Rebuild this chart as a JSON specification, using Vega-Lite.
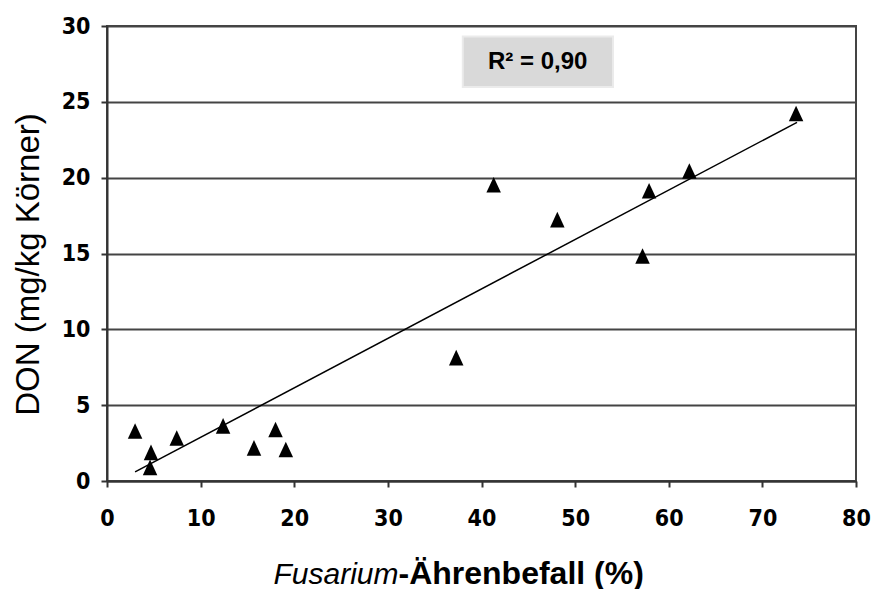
{
  "$schema": "https://vega.github.io/schema/vega-lite/v6.json",
  "width": 749,
  "height": 455,
  "autosize": {"type": "none"},
  "padding": {"left": 107, "top": 26, "right": 16, "bottom": 108},
  "background": "white",
  "config": {
    "view": {"stroke": "#444444", "strokeWidth": 2},
    "font": "Liberation Sans"
  },
  "datasets": {
    "points": [
      {"x": 3.0, "y": 3.26},
      {"x": 4.7, "y": 1.85},
      {"x": 4.6, "y": 0.86},
      {"x": 7.45, "y": 2.8},
      {"x": 12.4, "y": 3.6},
      {"x": 15.7, "y": 2.15},
      {"x": 18.0, "y": 3.36},
      {"x": 19.1, "y": 2.04},
      {"x": 37.3, "y": 8.1},
      {"x": 41.3, "y": 19.5},
      {"x": 48.1, "y": 17.2},
      {"x": 57.2, "y": 14.8},
      {"x": 57.9, "y": 19.1},
      {"x": 62.2, "y": 20.4},
      {"x": 73.6, "y": 24.2}
    ],
    "fit": [
      {"x": 3.0, "y": 0.6},
      {"x": 73.7, "y": 23.65}
    ],
    "box": [
      {"x1": 38.0, "x2": 54.05, "y": 25.98, "y2": 29.3, "xm": 46.0, "ym": 27.17, "label": "R² = 0,90"}
    ]
  },
  "resolve": {"axis": {"x": "independent"}},
  "layer": [
    {
      "data": {"name": "points"},
      "mark": {"type": "point", "shape": "M0,-1.15L-1,1L1,1Z", "filled": true, "color": "black", "opacity": 1, "size": 210},
      "encoding": {
        "x": {
          "field": "x", "type": "quantitative",
          "scale": {"domain": [0, 80], "nice": false, "zero": false},
          "axis": {
            "orient": "bottom",
            "values": [0, 10, 20, 30, 40, 50, 60, 70, 80],
            "grid": false,
            "labelFlush": false,
            "domainColor": "#333333", "domainWidth": 2,
            "tickColor": "#333333", "tickWidth": 2, "tickSize": 6,
            "labelFont": "DejaVu Sans Condensed", "labelFontWeight": "bold", "labelFontSize": 23, "labelColor": "black",
            "labelPadding": 20,
            "title": "Fusarium",
            "titleFont": "Liberation Sans", "titleFontStyle": "italic", "titleFontWeight": "normal", "titleFontSize": 30, "titleColor": "black",
            "titleX": 166, "titleY": 102, "titleAlign": "left", "titleAnchor": "start", "titleBaseline": "alphabetic"
          }
        },
        "y": {
          "field": "y", "type": "quantitative",
          "scale": {"domain": [0, 30], "nice": false, "zero": false},
          "axis": {
            "values": [0, 5, 10, 15, 20, 25, 30],
            "grid": true, "gridColor": "#444444", "gridWidth": 2,
            "labelFlush": false,
            "domainColor": "#333333", "domainWidth": 2,
            "tickColor": "#333333", "tickWidth": 2, "tickSize": 6,
            "labelFont": "DejaVu Sans Condensed", "labelFontWeight": "bold", "labelFontSize": 23, "labelColor": "black",
            "labelPadding": 11,
            "title": "DON (mg/kg Körner)",
            "titleFont": "Liberation Sans", "titleFontWeight": "normal", "titleFontSize": 33, "titleColor": "black",
            "titleAngle": -90, "titleX": -69, "titleY": 238, "titleAlign": "center", "titleBaseline": "alphabetic"
          }
        }
      }
    },
    {
      "data": {"name": "fit"},
      "mark": {"type": "line", "color": "black", "strokeWidth": 1.5},
      "encoding": {
        "x": {
          "field": "x", "type": "quantitative",
          "axis": {
            "orient": "bottom",
            "labels": false, "ticks": false, "domain": false, "grid": false,
            "title": "-Ährenbefall (%)",
            "titleFont": "Liberation Sans", "titleFontWeight": "bold", "titleFontSize": 32, "titleColor": "black",
            "titleX": 291, "titleY": 102, "titleAlign": "left", "titleAnchor": "start", "titleBaseline": "alphabetic"
          }
        },
        "y": {"field": "y", "type": "quantitative"}
      }
    },
    {
      "data": {"name": "box"},
      "mark": {"type": "rect", "fill": "#d9d9d9", "stroke": "#ebebeb", "strokeWidth": 2},
      "encoding": {
        "x": {"field": "x1", "type": "quantitative", "axis": null},
        "x2": {"field": "x2"},
        "y": {"field": "y", "type": "quantitative"},
        "y2": {"field": "y2"}
      }
    },
    {
      "data": {"name": "box"},
      "mark": {"type": "text", "font": "Liberation Sans", "fontWeight": "bold", "fontSize": 24, "color": "black", "align": "center", "baseline": "alphabetic"},
      "encoding": {
        "x": {"field": "xm", "type": "quantitative", "axis": null},
        "y": {"field": "ym", "type": "quantitative"},
        "text": {"field": "label"}
      }
    }
  ]
}
